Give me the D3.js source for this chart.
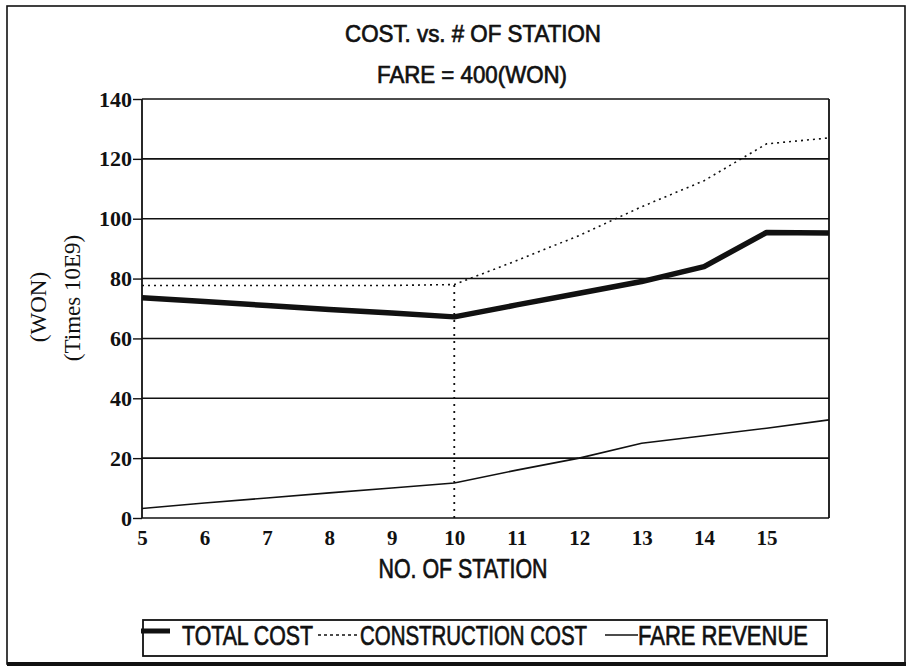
<!DOCTYPE html>
<html>
<head>
<meta charset="utf-8">
<style>
  body { margin: 0; background: #fff; }
  text { fill: #111; }
  .narrow { font-family: "Liberation Sans", Arial, sans-serif; }
  .serif { font-family: "Liberation Serif", "DejaVu Serif", serif; }
  .tick line { stroke: #111; }
  path.domain { stroke: none; }
</style>
</head>
<body>
<svg id="chart" width="909" height="672"></svg>
<script src="https://cdnjs.cloudflare.com/ajax/libs/d3/7.8.5/d3.min.js"></script>
<script>
// stations on the x axis
var stations = [5, 6, 7, 8, 9, 10, 11, 12, 13, 14, 15, 16];
var xTickLabels = [5, 6, 7, 8, 9, 10, 11, 12, 13, 14, 15];
var yTickValues = [0, 20, 40, 60, 80, 100, 120, 140];

// series (WON, times 10E9)
var totalCost        = [73.6, 72.3, 71.0, 69.7, 68.5, 67.2, 71.2, 75.1, 79.0, 84.0, 95.4, 95.2];
var constructionCost = [77.7, 77.7, 77.7, 77.7, 77.7, 78.0, 86.0, 94.4, 104.0, 112.7, 125.0, 127.0];
var fareRevenue      = [3.2, 5.0, 6.7, 8.4, 10.0, 11.7, 16.0, 20.0, 25.0, 27.5, 30.0, 32.8];
var dropStation = 10; // dotted drop line in construction cost

var svg = d3.select("#chart");
var pLeft = 142, pRight = 829, pTop = 99, pBottom = 518;

var x = d3.scaleLinear().domain([5, 16]).range([pLeft, pRight]);
var y = d3.scaleLinear().domain([0, 140]).range([pBottom, pTop]);

// outer frame
svg.append("rect").attr("x", 7).attr("y", 6).attr("width", 898).attr("height", 658)
  .attr("fill", "none").attr("stroke", "#111").attr("stroke-width", 1.6);
svg.append("line").attr("x1", 7).attr("x2", 906).attr("y1", 664).attr("y2", 664)
  .attr("stroke", "#111").attr("stroke-width", 4);

// condensed look via textLength
function narrowText(tx, ty, str, size, len, anchor) {
  return svg.append("text").attr("class", "narrow").attr("x", tx).attr("y", ty)
    .attr("text-anchor", anchor || "middle").style("font-size", size + "px")
    .attr("textLength", len).attr("lengthAdjust", "spacingAndGlyphs")
    .style("stroke", "#111").style("stroke-width", 0.7)
    .text(str);
}
narrowText(473, 42, "COST. vs. # OF STATION", 24, 256);
narrowText(472, 83, "FARE = 400(WON)", 24, 190);

// horizontal grid
svg.append("g").selectAll("line").data(yTickValues).enter().append("line")
  .attr("x1", pLeft).attr("x2", pRight)
  .attr("y1", d => y(d)).attr("y2", d => y(d))
  .attr("stroke", "#111").attr("stroke-width", 1.6);

// frame of plot
svg.append("line").attr("x1", pLeft).attr("x2", pLeft).attr("y1", pTop).attr("y2", pBottom)
  .attr("stroke", "#111").attr("stroke-width", 1.8);
svg.append("line").attr("x1", pRight).attr("x2", pRight).attr("y1", pTop).attr("y2", pBottom)
  .attr("stroke", "#111").attr("stroke-width", 1.8);

// y axis
var yAxis = d3.axisLeft(y).tickValues(yTickValues).tickSize(9).tickPadding(1);
var yg = svg.append("g").attr("transform", "translate(" + pLeft + ",0)").call(yAxis);
yg.selectAll("text").attr("class", "serif").style("font-size", "22px").style("font-weight", "bold")
  .attr("fill", "#111");
yg.selectAll(".tick line").attr("stroke-width", 1.4);

// x axis
var xAxis = d3.axisBottom(x).tickValues(xTickLabels).tickSize(0).tickPadding(12);
var xg = svg.append("g").attr("transform", "translate(0," + pBottom + ")").call(xAxis);
xg.selectAll("text").attr("class", "serif").style("font-size", "21px").style("font-weight", "bold")
  .attr("fill", "#111");

// axis titles
narrowText(463, 578, "NO. OF STATION", 28, 169);
svg.append("text").attr("class", "serif").attr("transform", "translate(46,307) rotate(-90)")
  .attr("text-anchor", "middle").style("font-size", "23px").text("(WON)");
svg.append("text").attr("class", "serif").attr("transform", "translate(80,298) rotate(-90)")
  .attr("text-anchor", "middle").style("font-size", "23px").text("(Times 10E9)");

// lines
var line = d3.line().x((d, i) => x(stations[i])).y(d => y(d));

svg.append("path").datum(fareRevenue).attr("d", line)
  .attr("fill", "none").attr("stroke", "#111").attr("stroke-width", 1.6);
svg.append("path").datum(constructionCost).attr("d", line)
  .attr("fill", "none").attr("stroke", "#111").attr("stroke-width", 1.6)
  .attr("stroke-dasharray", "2,4");
var di = stations.indexOf(dropStation);
svg.append("line").attr("x1", x(dropStation)).attr("x2", x(dropStation))
  .attr("y1", y(0)).attr("y2", y(constructionCost[di]))
  .attr("stroke", "#111").attr("stroke-width", 1.8).attr("stroke-dasharray", "2,5");
svg.append("path").datum(totalCost).attr("d", line)
  .attr("fill", "none").attr("stroke", "#111").attr("stroke-width", 5.5)
  .attr("stroke-linejoin", "round");

// legend
var lg = svg.append("g");
lg.append("rect").attr("x", 143).attr("y", 620).attr("width", 684).attr("height", 36)
  .attr("fill", "#fff").attr("stroke", "#111").attr("stroke-width", 1.8);
var items = [
  { name: "TOTAL COST", x0: 141, x1: 170, ly: 631, w: 5, dash: null, tx: 182, len: 131 },
  { name: "CONSTRUCTION COST", x0: 318, x1: 359, ly: 635, w: 1.5, dash: "3,3", tx: 360, len: 227 },
  { name: "FARE REVENUE", x0: 605, x1: 638, ly: 635, w: 1.6, dash: null, tx: 638, len: 170 }
];
items.forEach(function(it) {
  lg.append("line").attr("x1", it.x0).attr("x2", it.x1).attr("y1", it.ly).attr("y2", it.ly)
    .attr("stroke", "#111").attr("stroke-width", it.w).attr("stroke-dasharray", it.dash);
  narrowText(it.tx, 645, it.name, 27, it.len, "start");
});
</script>
</body>
</html>
